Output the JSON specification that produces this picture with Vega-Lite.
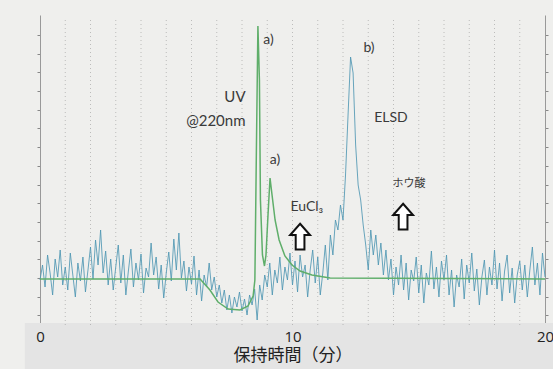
{
  "$schema": "https://vega.github.io/schema/vega-lite/v6.json",
  "width": 505,
  "height": 310,
  "autosize": {"type": "none"},
  "padding": {"left": 40, "top": 15, "right": 8, "bottom": 44},
  "background": "#efefed",
  "config": {"view": {"stroke": null}},
  "datasets": {
    "elsd": [
      {"t":0.0,"v":45},{"t":0.1,"v":60},{"t":0.2,"v":38},{"t":0.3,"v":70},{"t":0.4,"v":52},{"t":0.5,"v":30},{"t":0.6,"v":66},{"t":0.7,"v":48},{"t":0.8,"v":75},{"t":0.9,"v":40},
      {"t":1.0,"v":58},{"t":1.1,"v":35},{"t":1.2,"v":72},{"t":1.3,"v":50},{"t":1.4,"v":28},{"t":1.5,"v":62},{"t":1.6,"v":44},{"t":1.7,"v":68},{"t":1.8,"v":33},{"t":1.9,"v":55},
      {"t":2.0,"v":78},{"t":2.1,"v":46},{"t":2.2,"v":85},{"t":2.3,"v":60},{"t":2.4,"v":95},{"t":2.5,"v":52},{"t":2.6,"v":74},{"t":2.7,"v":40},{"t":2.8,"v":66},{"t":2.9,"v":35},
      {"t":3.0,"v":58},{"t":3.1,"v":80},{"t":3.2,"v":42},{"t":3.3,"v":70},{"t":3.4,"v":30},{"t":3.5,"v":54},{"t":3.6,"v":76},{"t":3.7,"v":38},{"t":3.8,"v":62},{"t":3.9,"v":45},
      {"t":4.0,"v":71},{"t":4.1,"v":32},{"t":4.2,"v":57},{"t":4.3,"v":48},{"t":4.4,"v":82},{"t":4.5,"v":50},{"t":4.6,"v":68},{"t":4.7,"v":36},{"t":4.8,"v":60},{"t":4.9,"v":27},
      {"t":5.0,"v":52},{"t":5.1,"v":73},{"t":5.2,"v":44},{"t":5.3,"v":86},{"t":5.4,"v":55},{"t":5.5,"v":92},{"t":5.6,"v":47},{"t":5.7,"v":64},{"t":5.8,"v":34},{"t":5.9,"v":58},
      {"t":6.0,"v":41},{"t":6.1,"v":69},{"t":6.2,"v":30},{"t":6.3,"v":55},{"t":6.4,"v":24},{"t":6.5,"v":50},{"t":6.6,"v":38},{"t":6.7,"v":62},{"t":6.8,"v":35},{"t":6.9,"v":48},
      {"t":7.0,"v":28},{"t":7.1,"v":40},{"t":7.2,"v":22},{"t":7.3,"v":35},{"t":7.4,"v":15},{"t":7.5,"v":30},{"t":7.6,"v":12},{"t":7.7,"v":28},{"t":7.8,"v":18},{"t":7.9,"v":33},
      {"t":8.0,"v":14},{"t":8.1,"v":26},{"t":8.2,"v":10},{"t":8.3,"v":30},{"t":8.4,"v":20},{"t":8.5,"v":36},{"t":8.6,"v":5},{"t":8.7,"v":40},{"t":8.8,"v":25},{"t":8.9,"v":50},
      {"t":9.0,"v":38},{"t":9.1,"v":62},{"t":9.2,"v":30},{"t":9.3,"v":55},{"t":9.4,"v":42},{"t":9.5,"v":68},{"t":9.6,"v":35},{"t":9.7,"v":58},{"t":9.8,"v":45},{"t":9.9,"v":72},
      {"t":10.0,"v":40},{"t":10.1,"v":64},{"t":10.2,"v":33},{"t":10.3,"v":70},{"t":10.4,"v":48},{"t":10.5,"v":60},{"t":10.6,"v":28},{"t":10.7,"v":55},{"t":10.8,"v":75},{"t":10.9,"v":42},
      {"t":11.0,"v":68},{"t":11.1,"v":30},{"t":11.2,"v":52},{"t":11.3,"v":80},{"t":11.4,"v":45},{"t":11.5,"v":90},{"t":11.6,"v":70},{"t":11.7,"v":105},{"t":11.8,"v":95},{"t":11.9,"v":120},
      {"t":12.0,"v":105},{"t":12.1,"v":150},{"t":12.2,"v":210},{"t":12.3,"v":268},{"t":12.4,"v":252},{"t":12.5,"v":180},{"t":12.6,"v":140},{"t":12.7,"v":125},{"t":12.8,"v":100},{"t":12.9,"v":80},
      {"t":13.0,"v":55},{"t":13.1,"v":95},{"t":13.2,"v":70},{"t":13.3,"v":90},{"t":13.4,"v":60},{"t":13.5,"v":82},{"t":13.6,"v":50},{"t":13.7,"v":75},{"t":13.8,"v":45},{"t":13.9,"v":66},
      {"t":14.0,"v":30},{"t":14.1,"v":58},{"t":14.2,"v":40},{"t":14.3,"v":70},{"t":14.4,"v":35},{"t":14.5,"v":62},{"t":14.6,"v":25},{"t":14.7,"v":55},{"t":14.8,"v":44},{"t":14.9,"v":68},
      {"t":15.0,"v":32},{"t":15.1,"v":60},{"t":15.2,"v":22},{"t":15.3,"v":52},{"t":15.4,"v":40},{"t":15.5,"v":74},{"t":15.6,"v":36},{"t":15.7,"v":58},{"t":15.8,"v":28},{"t":15.9,"v":64},
      {"t":16.0,"v":45},{"t":16.1,"v":70},{"t":16.2,"v":30},{"t":16.3,"v":55},{"t":16.4,"v":18},{"t":16.5,"v":50},{"t":16.6,"v":38},{"t":16.7,"v":66},{"t":16.8,"v":26},{"t":16.9,"v":60},
      {"t":17.0,"v":42},{"t":17.1,"v":72},{"t":17.2,"v":34},{"t":17.3,"v":56},{"t":17.4,"v":20},{"t":17.5,"v":48},{"t":17.6,"v":65},{"t":17.7,"v":30},{"t":17.8,"v":58},{"t":17.9,"v":40},
      {"t":18.0,"v":75},{"t":18.1,"v":36},{"t":18.2,"v":62},{"t":18.3,"v":24},{"t":18.4,"v":54},{"t":18.5,"v":70},{"t":18.6,"v":32},{"t":18.7,"v":57},{"t":18.8,"v":22},{"t":18.9,"v":50},
      {"t":19.0,"v":64},{"t":19.1,"v":35},{"t":19.2,"v":60},{"t":19.3,"v":28},{"t":19.4,"v":55},{"t":19.5,"v":78},{"t":19.6,"v":40},{"t":19.7,"v":62},{"t":19.8,"v":30},{"t":19.9,"v":72},
      {"t":20.0,"v":48}
    ],
    "uv": [
      {"t":0,"v":46},{"t":6.34,"v":46},{"t":6.73,"v":35},{"t":7.05,"v":23},{"t":7.45,"v":16},{"t":7.92,"v":15},{"t":8.24,"v":19},{"t":8.44,"v":29},{"t":8.51,"v":45},{"t":8.57,"v":175},{"t":8.63,"v":299},{"t":8.69,"v":245},{"t":8.73,"v":125},{"t":8.81,"v":70},{"t":8.89,"v":59},{"t":8.95,"v":70},{"t":9.03,"v":110},{"t":9.11,"v":147},{"t":9.19,"v":130},{"t":9.31,"v":105},{"t":9.47,"v":85},{"t":9.70,"v":69},{"t":9.98,"v":60},{"t":10.30,"v":54},{"t":10.77,"v":50},{"t":11.49,"v":47},{"t":20,"v":46}
    ]
  },
  "resolve": {"axis": {"y": "independent"}},
  "layer": [
    {
      "data": {"values": [{"a": 1}]},
      "mark": {"type": "rect", "color": "#e4e4e4"},
      "encoding": {
        "x": {"datum": -0.6, "type": "quantitative", "scale": {"domain": [0, 20], "nice": false, "zero": false},
          "axis": {"values": [0, 10, 20], "title": "保持時間（分）", "grid": false, "ticks": false, "domain": false, "labelFontSize": 15, "labelColor": "#222", "labelFont": "Open Sans", "labelPadding": 4, "labelFlush": false, "labelOverlap": false, "titleFont": "Noto Sans CJK JP", "titleFontSize": 17, "titleFontWeight": "normal", "titleColor": "#222", "titlePadding": 3, "zindex": 1}},
        "x2": {"datum": 20.6},
        "y": {"datum": -50, "type": "quantitative", "scale": {"domain": [0, 310], "nice": false, "zero": false},
          "axis": {"orient": "left", "values": [9.6, 28.3, 47, 65.7, 84.4, 103.1, 121.8, 140.5, 159.2, 177.9, 196.6, 215.3, 234, 252.7, 271.4, 290.1], "labels": false, "ticks": true, "tickSize": 3, "tickColor": "#888", "domainColor": "#999", "grid": false, "title": null}},
        "y2": {"datum": 2}
      }
    },
    {
      "data": {"values": [{"t":1},{"t":2},{"t":3},{"t":4},{"t":5},{"t":6},{"t":7},{"t":8},{"t":9},{"t":10},{"t":11},{"t":12},{"t":13},{"t":14},{"t":15},{"t":16},{"t":17},{"t":18},{"t":19}]},
      "mark": {"type": "rule", "color": "#9a9a9a", "opacity": 0.6, "strokeDash": [1, 3], "strokeWidth": 1},
      "encoding": {
        "x": {"field": "t", "type": "quantitative", "scale": {"domain": [0, 20], "nice": false, "zero": false},
          "axis": {"values": [0, 10, 20], "title": "保持時間（分）", "grid": false, "ticks": false, "domain": false, "labelFontSize": 15, "labelColor": "#222", "labelFont": "Open Sans", "labelPadding": 4, "labelFlush": false, "labelOverlap": false, "titleFont": "Noto Sans CJK JP", "titleFontSize": 17, "titleFontWeight": "normal", "titleColor": "#222", "titlePadding": 3, "zindex": 1}},
        "y": {"datum": 0, "type": "quantitative", "scale": {"domain": [0, 310], "nice": false, "zero": false}, "axis": null},
        "y2": {"datum": 305}
      }
    },
    {
      "data": {"name": "elsd"},
      "mark": {"type": "line", "color": "#4f97b3", "strokeWidth": 1, "opacity": 0.85},
      "encoding": {
        "x": {"field": "t", "type": "quantitative", "scale": {"domain": [0, 20], "nice": false, "zero": false},
          "axis": {"values": [0, 10, 20], "title": "保持時間（分）", "grid": false, "ticks": false, "domain": false, "labelFontSize": 15, "labelColor": "#222", "labelFont": "Open Sans", "labelPadding": 4, "labelFlush": false, "labelOverlap": false, "titleFont": "Noto Sans CJK JP", "titleFontSize": 17, "titleFontWeight": "normal", "titleColor": "#222", "titlePadding": 3, "zindex": 1}},
        "y": {"field": "v", "type": "quantitative", "scale": {"domain": [0, 310], "nice": false, "zero": false}, "axis": null}
      }
    },
    {
      "data": {"name": "uv"},
      "mark": {"type": "line", "color": "#5fae6a", "strokeWidth": 1.5},
      "encoding": {
        "x": {"field": "t", "type": "quantitative", "scale": {"domain": [0, 20], "nice": false, "zero": false},
          "axis": {"values": [0, 10, 20], "title": "保持時間（分）", "grid": false, "ticks": false, "domain": false, "labelFontSize": 15, "labelColor": "#222", "labelFont": "Open Sans", "labelPadding": 4, "labelFlush": false, "labelOverlap": false, "titleFont": "Noto Sans CJK JP", "titleFontSize": 17, "titleFontWeight": "normal", "titleColor": "#222", "titlePadding": 3, "zindex": 1}},
        "y": {"field": "v", "type": "quantitative", "scale": {"domain": [0, 310], "nice": false, "zero": false},
          "axis": {"orient": "right", "values": [9.6, 28.3, 47, 65.7, 84.4, 103.1, 121.8, 140.5, 159.2, 177.9, 196.6, 215.3, 234, 252.7, 271.4, 290.1], "labels": false, "ticks": true, "tickSize": 3, "tickColor": "#888", "domainColor": "#999", "grid": false, "title": null}}
      }
    },
    {
      "data": {"values": [
        {"t": 9.05, "v": 285, "label": "a)"},
        {"t": 9.31, "v": 165, "label": "a)"},
        {"t": 13.03, "v": 277, "label": "b)"},
        {"t": 13.9, "v": 207, "label": "ELSD"},
        {"t": 10.57, "v": 118, "label": "EuCl₃"}
      ]},
      "mark": {"type": "text", "font": "Lato", "fontSize": 14, "color": "#3a3a3a", "align": "center", "baseline": "middle"},
      "encoding": {
        "x": {"field": "t", "type": "quantitative", "scale": {"domain": [0, 20], "nice": false, "zero": false},
          "axis": {"values": [0, 10, 20], "title": "保持時間（分）", "grid": false, "ticks": false, "domain": false, "labelFontSize": 15, "labelColor": "#222", "labelFont": "Open Sans", "labelPadding": 4, "labelFlush": false, "labelOverlap": false, "titleFont": "Noto Sans CJK JP", "titleFontSize": 17, "titleFontWeight": "normal", "titleColor": "#222", "titlePadding": 3, "zindex": 1}},
        "y": {"field": "v", "type": "quantitative", "scale": {"domain": [0, 310], "nice": false, "zero": false}, "axis": null},
        "text": {"field": "label"}
      }
    },
    {
      "data": {"values": [
        {"t": 8.14, "v": 228, "label": "UV"},
        {"t": 8.14, "v": 204, "label": "@220nm"}
      ]},
      "mark": {"type": "text", "font": "Lato", "fontSize": 15, "color": "#3a3a3a", "align": "right", "baseline": "middle"},
      "encoding": {
        "x": {"field": "t", "type": "quantitative", "scale": {"domain": [0, 20], "nice": false, "zero": false},
          "axis": {"values": [0, 10, 20], "title": "保持時間（分）", "grid": false, "ticks": false, "domain": false, "labelFontSize": 15, "labelColor": "#222", "labelFont": "Open Sans", "labelPadding": 4, "labelFlush": false, "labelOverlap": false, "titleFont": "Noto Sans CJK JP", "titleFontSize": 17, "titleFontWeight": "normal", "titleColor": "#222", "titlePadding": 3, "zindex": 1}},
        "y": {"field": "v", "type": "quantitative", "scale": {"domain": [0, 310], "nice": false, "zero": false}, "axis": null},
        "text": {"field": "label"}
      }
    },
    {
      "data": {"values": [{"t": 14.61, "v": 141, "label": "ホウ酸"}]},
      "mark": {"type": "text", "font": "Noto Sans CJK JP", "fontSize": 11, "color": "#3a3a3a", "align": "center", "baseline": "middle"},
      "encoding": {
        "x": {"field": "t", "type": "quantitative", "scale": {"domain": [0, 20], "nice": false, "zero": false},
          "axis": {"values": [0, 10, 20], "title": "保持時間（分）", "grid": false, "ticks": false, "domain": false, "labelFontSize": 15, "labelColor": "#222", "labelFont": "Open Sans", "labelPadding": 4, "labelFlush": false, "labelOverlap": false, "titleFont": "Noto Sans CJK JP", "titleFontSize": 17, "titleFontWeight": "normal", "titleColor": "#222", "titlePadding": 3, "zindex": 1}},
        "y": {"field": "v", "type": "quantitative", "scale": {"domain": [0, 310], "nice": false, "zero": false}, "axis": null},
        "text": {"field": "label"}
      }
    },
    {
      "data": {"values": [{"t": 10.3, "v": 88}, {"t": 14.38, "v": 108}]},
      "mark": {"type": "point", "shape": "M0,-1L0.75,-0.15L0.33,-0.15L0.33,0.95L-0.33,0.95L-0.33,-0.15L-0.75,-0.15Z", "size": 700, "filled": true, "fill": "#ffffff", "stroke": "#111111", "strokeWidth": 2, "opacity": 1},
      "encoding": {
        "x": {"field": "t", "type": "quantitative", "scale": {"domain": [0, 20], "nice": false, "zero": false},
          "axis": {"values": [0, 10, 20], "title": "保持時間（分）", "grid": false, "ticks": false, "domain": false, "labelFontSize": 15, "labelColor": "#222", "labelFont": "Open Sans", "labelPadding": 4, "labelFlush": false, "labelOverlap": false, "titleFont": "Noto Sans CJK JP", "titleFontSize": 17, "titleFontWeight": "normal", "titleColor": "#222", "titlePadding": 3, "zindex": 1}},
        "y": {"field": "v", "type": "quantitative", "scale": {"domain": [0, 310], "nice": false, "zero": false}, "axis": null}
      }
    }
  ]
}
